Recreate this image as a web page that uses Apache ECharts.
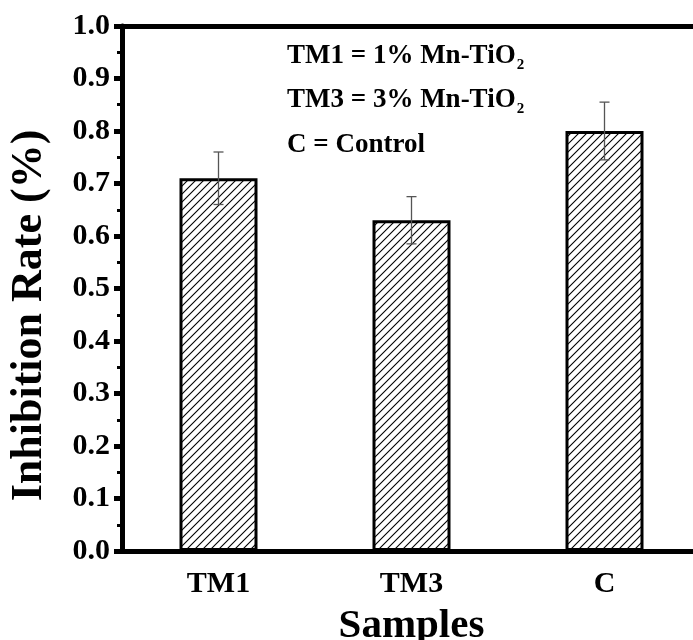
<!DOCTYPE html>
<html>
<head>
<meta charset="utf-8">
<title>Inhibition Rate</title>
<script src="https://cdn.jsdelivr.net/npm/echarts@6.0.0/dist/echarts.min.js"></script>
<style>
  html, body { margin: 0; padding: 0; background: #fff; }
  #chart { width: 693px; height: 640px; }
</style>
</head>
<body>
<div id="chart"></div>
<script>
// data
var categories = ["TM1", "TM3", "C"];
var rates = [0.71, 0.63, 0.80];
var errors = [0.05, 0.045, 0.055];
var noteLines = [
  ["TM1 = 1% Mn-TiO", "2"],
  ["TM3 = 3% Mn-TiO", "2"],
  ["C = Control", ""]
];

var font = "Liberation Serif";

// diagonal hatch used to fill the bars
function hatch() {
  var c = document.createElement("canvas");
  c.width = 8;
  c.height = 8;
  var ctx = c.getContext("2d");
  ctx.fillStyle = "#fff";
  ctx.fillRect(0, 0, 8, 8);
  ctx.strokeStyle = "#000";
  ctx.lineWidth = 1.1;
  ctx.beginPath();
  ctx.moveTo(-1, 9); ctx.lineTo(9, -1);
  ctx.moveTo(-1, 1); ctx.lineTo(1, -1);
  ctx.moveTo(7, 9); ctx.lineTo(9, 7);
  ctx.stroke();
  return c;
}

var errData = categories.map(function (c, i) {
  return [i, rates[i] - errors[i], rates[i] + errors[i]];
});

var chart = echarts.init(document.getElementById("chart"));

chart.setOption({
  animation: false,
  textStyle: { fontFamily: font },
  grid: { left: 122, right: -8, top: 26, bottom: 89, outerBoundsMode: "none" },
  xAxis: [
    {
      type: "category",
      data: categories,
      position: "bottom",
      name: "Samples",
      nameLocation: "middle",
      nameGap: 55,
      nameTextStyle: { fontFamily: font, fontWeight: "bold", fontSize: 41, color: "#000" },
      axisLine: { lineStyle: { color: "#000", width: 5 } },
      axisTick: { alignWithLabel: true, length: 10, lineStyle: { color: "#000", width: 5 } },
      axisLabel: { margin: 18, fontFamily: font, fontWeight: "bold", fontSize: 30, color: "#000" }
    },
    {
      // boundary ticks on bottom
      type: "category",
      data: categories,
      position: "bottom",
      axisLine: { show: false },
      axisTick: { length: 5, lineStyle: { color: "#000", width: 4 } },
      axisLabel: { show: false }
    },
    {
      type: "category",
      data: categories,
      position: "top",
      axisLine: { lineStyle: { color: "#000", width: 5 } },
      axisTick: { inside: true, alignWithLabel: true, length: 4, lineStyle: { color: "#000", width: 2 } },
      axisLabel: { show: false }
    },
    {
      type: "category",
      data: categories,
      position: "top",
      axisLine: { show: false },
      axisTick: { inside: true, length: 4, lineStyle: { color: "#000", width: 2 } },
      axisLabel: { show: false }
    }
  ],
  yAxis: {
    type: "value",
    min: 0,
    max: 1,
    interval: 0.1,
    name: "Inhibition Rate (%)",
    nameLocation: "middle",
    nameGap: 70,
    nameTextStyle: { fontFamily: font, fontWeight: "bold", fontSize: 44, color: "#000", padding: [0, 54, 0, 0] },
    axisLine: { show: true, lineStyle: { color: "#000", width: 5 } },
    axisTick: { show: true, length: 8, lineStyle: { color: "#000", width: 5 } },
    minorTick: { show: true, splitNumber: 2, length: 5, lineStyle: { color: "#000", width: 3 } },
    splitLine: { show: false },
    axisLabel: {
      margin: 12,
      fontFamily: font,
      fontWeight: "bold",
      fontSize: 30,
      color: "#000",
      formatter: function (v) { return v.toFixed(1); }
    }
  },
  graphic: noteLines.map(function (l, i) {
    return {
      type: "text",
      left: 287,
      top: 36 + i * 44 + (l[1] ? 0 : 8),
      style: {
        text: "{a|" + l[0] + "}" + (l[1] ? "{s|" + l[1] + "}" : ""),
        rich: {
          a: { fontFamily: font, fontWeight: "bold", fontSize: 27, lineHeight: 30, verticalAlign: "top", fill: "#000" },
          s: { fontFamily: font, fontWeight: "bold", fontSize: 15, lineHeight: 15, verticalAlign: "bottom", padding: [22, 0, 0, 1], fill: "#000" }
        }
      }
    };
  }),
  series: [
    {
      type: "bar",
      data: rates,
      barWidth: 78,
      itemStyle: {
        color: { image: hatch(), repeat: "repeat" },
        borderColor: "#000",
        borderWidth: 3
      }
    },
    {
      type: "custom",
      data: errData,
      z: 5,
      renderItem: function (params, api) {
        var x = api.value(0);
        var lo = api.coord([x, api.value(1)]);
        var hi = api.coord([x, api.value(2)]);
        var st = { stroke: "#555", lineWidth: 1.3 };
        return {
          type: "group",
          children: [
            { type: "line", shape: { x1: hi[0], y1: hi[1], x2: lo[0], y2: lo[1] }, style: st },
            { type: "line", shape: { x1: hi[0] - 5, y1: hi[1], x2: hi[0] + 5, y2: hi[1] }, style: st },
            { type: "line", shape: { x1: lo[0] - 5, y1: lo[1], x2: lo[0] + 5, y2: lo[1] }, style: st }
          ]
        };
      }
    }
  ]
});
</script>
</body>
</html>
